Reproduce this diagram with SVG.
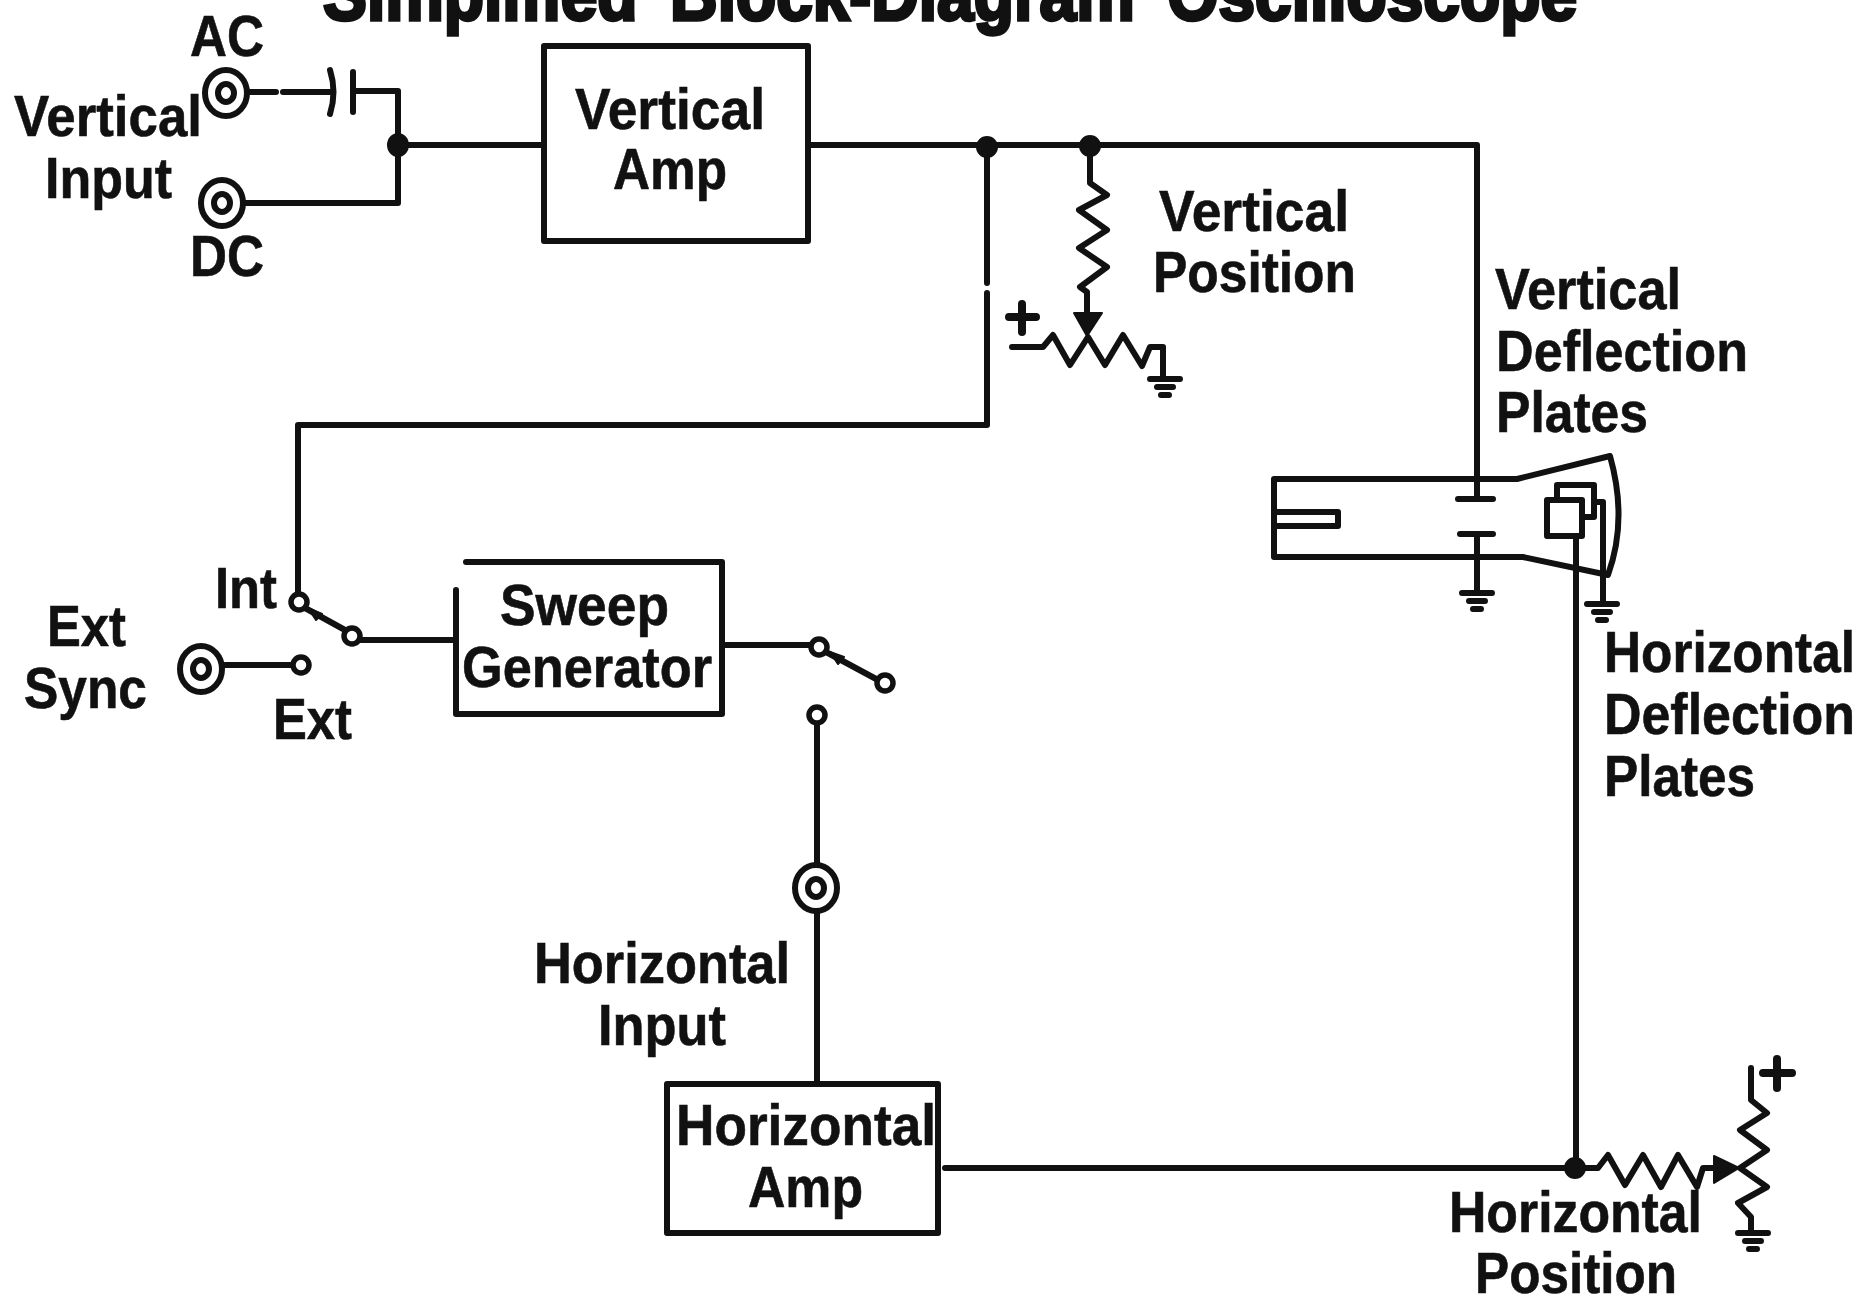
<svg xmlns="http://www.w3.org/2000/svg" width="1862" height="1300" viewBox="0 0 1862 1300">
<style>
text{font-family:"Liberation Sans",Arial,sans-serif;font-weight:700;font-size:57px;fill:#111;stroke:#111;stroke-width:.6px}
.t{font-size:74px;stroke-width:3.5px;word-spacing:16px}
.w,.b,.j,.o,.g{fill:none;stroke:#111;stroke-width:6px;stroke-linejoin:round;stroke-linecap:round}
.b{fill:#fff}
.j{stroke-width:6px;fill:#fff}
.o{stroke-width:5.5px;fill:#fff}
.f{fill:#111;stroke:#111;stroke-width:2px;stroke-linejoin:round}
.h{stroke-width:8px}
</style>
<defs>
<g id="jack"><ellipse class="j" rx="21" ry="23"/><ellipse class="j" rx="8" ry="9"/></g>
<g id="gnd"><path class="w" d="M-15 0H15M-8 8H8M-4 16H4"/></g>
</defs>
<rect width="1862" height="1300" fill="#fff"/>
<text id="title" class="t" x="323" y="20" textLength="1254" lengthAdjust="spacingAndGlyphs">Simplified Block-Diagram Oscilloscope</text>
<g id="connectors">
<path class="w" d="M247 92H276M283 92H333M355 91H398V203H245"/>
<path class="w" d="M398 145H544"/>
<path class="w" d="M808 145H1477V478"/>
<path class="w" d="M987 145V283M987 293V425H298V595"/>
<path class="w" d="M1090 145V183L1107 195L1079 210L1107 230L1079 248L1107 267L1080 287L1087 292V315"/>
<path class="w" d="M1012 347H1043L1053 335L1070 365L1088 337L1105 365L1123 335L1142 366L1150 347H1163V379"/>
<path class="w" d="M360 640H456M225 665H292M722 645H810M817 724V1084M945 1168H1575M1576 536V1168"/>
<path class="w" d="M1575 1168H1598L1608 1155L1625 1185L1643 1155L1661 1187L1678 1155L1697 1187L1703 1168H1715"/>
<path class="w" d="M1751 1068V1100L1767 1113L1740 1130L1767 1150L1740 1168L1767 1187L1738 1203L1751 1217V1231"/>
<path class="w" d="M305 608L345 630M826 652L878 680"/>
<path class="f" d="M308 608L322 614L316 620ZM830 652L844 657L838 664Z"/>
</g>
<g id="node-cap"><path class="w" d="M330 70Q337 92 330 114"/><path class="w" d="M353 72V112"/></g>
<g id="jack-ac"><use href="#jack" x="226" y="93"/></g>
<g id="jack-dc"><use href="#jack" x="222" y="203"/></g>
<g id="jack-ext"><use href="#jack" x="201" y="669"/></g>
<g id="jack-h"><use href="#jack" x="816" y="888"/></g>
<g id="junctions">
<ellipse class="f" cx="398" cy="145" rx="10" ry="11"/>
<circle class="f" cx="987" cy="147" r="10"/>
<circle class="f" cx="1090" cy="146" r="10"/>
<circle class="f" cx="1575" cy="1168" r="10"/>
</g>
<g id="terminals">
<circle class="o" cx="299" cy="602" r="8"/><circle class="o" cx="352" cy="636" r="8"/><circle class="o" cx="301" cy="665" r="8"/>
<circle class="o" cx="819" cy="647" r="8"/><circle class="o" cx="885" cy="683" r="8"/><circle class="o" cx="817" cy="715" r="8"/>
</g>
<g id="node-vertical-amp"><rect class="b" x="544" y="46" width="264" height="195"/><text x="575" y="129" textLength="190" lengthAdjust="spacingAndGlyphs">Vertical</text><text x="613" y="189" textLength="114" lengthAdjust="spacingAndGlyphs">Amp</text></g>
<g id="node-sweep"><path class="b" d="M466 562H722V714H456V590"/><text x="500" y="625" textLength="169" lengthAdjust="spacingAndGlyphs">Sweep</text><text x="462" y="687" textLength="250" lengthAdjust="spacingAndGlyphs">Generator</text></g>
<g id="node-horizontal-amp"><rect class="b" x="667" y="1084" width="271" height="149"/><text x="676" y="1145" textLength="260" lengthAdjust="spacingAndGlyphs">Horizontal</text><text x="748" y="1207" textLength="115" lengthAdjust="spacingAndGlyphs">Amp</text></g>
<g id="node-vpot">
<path class="f" d="M1074 313H1102L1087 336Z"/>
<path class="w h" d="M1009 317H1036M1022 304V332"/>
<use href="#gnd" x="1165" y="379"/>
</g>
<g id="node-hpot">
<path class="f" d="M1714 1156V1183L1739 1168Z"/>
<path class="w h" d="M1763 1073H1792M1777 1059V1088"/>
<use href="#gnd" x="1753" y="1233"/>
</g>
<g id="node-crt">
<path class="w" d="M1274 479H1517L1610 456Q1628 520 1608 575L1523 557L1274 557Z"/>
<path class="w" d="M1277 512H1338V526H1277"/>
<path class="w" d="M1477 479V499M1458 499H1493M1460 534H1493M1477 534V593"/>
<use href="#gnd" x="1477" y="593"/>
<path class="w" d="M1557 500V485H1594V517H1583M1594 502H1603V604"/>
<rect class="b" x="1547" y="500" width="35" height="36"/>
<use href="#gnd" x="1602" y="604"/>
</g>
<g id="labels">
<text x="190" y="56" textLength="74" lengthAdjust="spacingAndGlyphs">AC</text>
<text x="14" y="136" textLength="188" lengthAdjust="spacingAndGlyphs">Vertical</text>
<text x="45" y="198" textLength="127" lengthAdjust="spacingAndGlyphs">Input</text>
<text x="190" y="276" textLength="74" lengthAdjust="spacingAndGlyphs">DC</text>
<text x="1159" y="231" textLength="190" lengthAdjust="spacingAndGlyphs">Vertical</text>
<text x="1153" y="292" textLength="203" lengthAdjust="spacingAndGlyphs">Position</text>
<text x="1495" y="309" textLength="186" lengthAdjust="spacingAndGlyphs">Vertical</text>
<text x="1496" y="371" textLength="252" lengthAdjust="spacingAndGlyphs">Deflection</text>
<text x="1496" y="432" textLength="152" lengthAdjust="spacingAndGlyphs">Plates</text>
<text x="1604" y="672" textLength="251" lengthAdjust="spacingAndGlyphs">Horizontal</text>
<text x="1604" y="734" textLength="251" lengthAdjust="spacingAndGlyphs">Deflection</text>
<text x="1604" y="796" textLength="151" lengthAdjust="spacingAndGlyphs">Plates</text>
<text x="215" y="608" textLength="62" lengthAdjust="spacingAndGlyphs">Int</text>
<text x="47" y="646" textLength="79" lengthAdjust="spacingAndGlyphs">Ext</text>
<text x="24" y="708" textLength="123" lengthAdjust="spacingAndGlyphs">Sync</text>
<text x="273" y="739" textLength="79" lengthAdjust="spacingAndGlyphs">Ext</text>
<text x="534" y="983" textLength="256" lengthAdjust="spacingAndGlyphs">Horizontal</text>
<text x="598" y="1045" textLength="128" lengthAdjust="spacingAndGlyphs">Input</text>
<text x="1449" y="1232" textLength="253" lengthAdjust="spacingAndGlyphs">Horizontal</text>
<text x="1475" y="1293" textLength="202" lengthAdjust="spacingAndGlyphs">Position</text>
</g>
</svg>
